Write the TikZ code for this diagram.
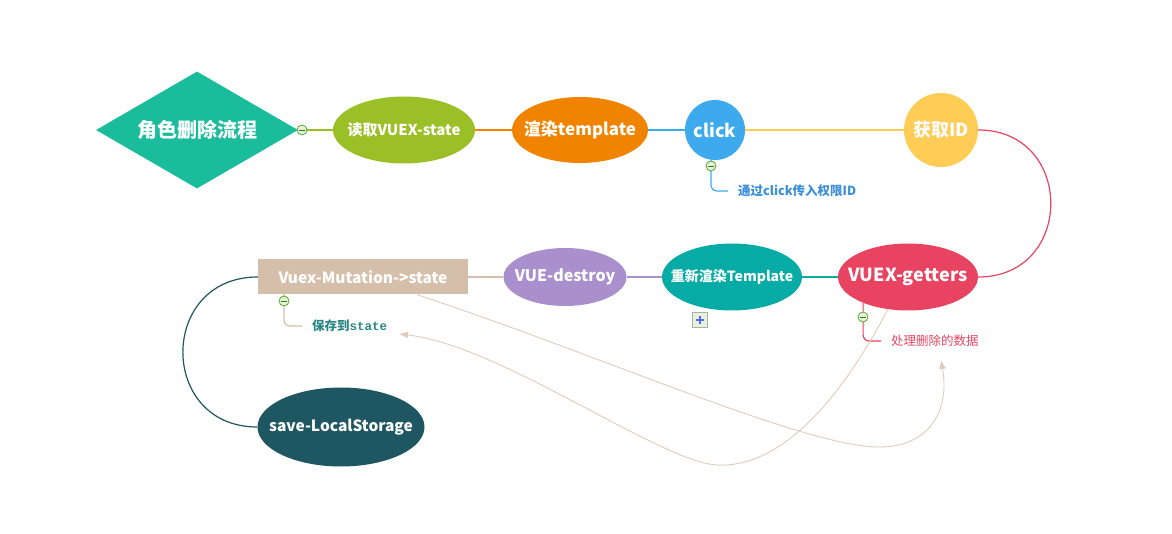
\documentclass[tikz,border=0pt]{standalone}
\usepackage{fontspec}
\setmainfont{Noto Sans CJK SC}
\setmonofont{Liberation Mono}
\usetikzlibrary{shapes.geometric,arrows.meta}

\definecolor{rootcol}{HTML}{1BBC9B}
\definecolor{readcol}{HTML}{9BBF26}
\definecolor{rendercol}{HTML}{F08300}
\definecolor{clickcol}{HTML}{3EAAEE}
\definecolor{idcol}{HTML}{FFCC55}
\definecolor{getcol}{HTML}{E84462}
\definecolor{rerendercol}{HTML}{07ABA6}
\definecolor{destroycol}{HTML}{A98FCB}
\definecolor{mutcol}{HTML}{D5BFAB}
\definecolor{savecol}{HTML}{1E5661}
\definecolor{clicknotecol}{HTML}{3A8FD8}
\definecolor{savenotecol}{HTML}{2A8784}
\definecolor{relcol}{HTML}{DDCCBC}
\definecolor{foldcol}{HTML}{5AA82C}
\definecolor{foldfill}{HTML}{E4F3D8}
\definecolor{plusedge}{HTML}{A3B8A0}
\definecolor{plusfill}{HTML}{E8EEE2}
\definecolor{pluscol}{HTML}{4F6FF0}

\begin{document}
\begin{tikzpicture}[x=1pt,y=-1pt,>={Latex[length=9pt,width=7pt]},
	topic/.style={ellipse,inner xsep=-14pt,inner ysep=0pt,text=white,font=\bfseries\fontsize{15}{18}\selectfont},
	note/.style={anchor=west,inner xsep=10pt,inner ysep=1pt,font=\fontsize{12.5}{15}\selectfont},
	fold/.style={circle,draw=foldcol,fill=foldfill,line width=0.8pt,minimum size=10pt,inner sep=0pt,
		path picture={\draw[foldcol!70!black,line width=0.9pt] ([xshift=2pt]path picture bounding box.west) -- ([xshift=-2pt]path picture bounding box.east);}},
	link/.style={line width=1.2pt},
	rel/.style={->,draw=relcol,line width=0.9pt}]
	\useasboundingbox (0,0) rectangle (1172,534);
	%\draw [help lines,step=50] (0,0) grid (1172,534);

	% main topics
	\node [diamond,aspect=1.73,fill=rootcol,text=white,minimum width=202pt,minimum height=117pt,inner sep=0pt,
		font=\bfseries\fontsize{20}{24}\selectfont] (root) at (197,130) {角色删除流程};
	\node [topic,fill=readcol,minimum width=142pt,minimum height=67pt] (read) at (404,130) {读取VUEX-state};
	\node [topic,fill=rendercol,minimum width=136pt,minimum height=66pt,font=\bfseries\fontsize{17}{20}\selectfont] (render) at (580,130) {渲染template};
	\node [circle,fill=clickcol,text=white,minimum size=60pt,inner sep=0pt,font=\bfseries\fontsize{18}{21}\selectfont] (click) at (715,130) {click};
	\node [circle,fill=idcol,text=white,minimum size=74pt,inner sep=0pt,font=\bfseries\fontsize{18}{21}\selectfont] (getid) at (941,130) {获取ID};
	\node [topic,fill=getcol,minimum width=140pt,minimum height=67pt,font=\bfseries\fontsize{18}{21}\selectfont] (getters) at (908,277) {VUEX-getters};
	\node [topic,fill=rerendercol,minimum width=140pt,minimum height=67pt,font=\bfseries\fontsize{14}{17}\selectfont] (rerender) at (732,277) {重新渲染Template};
	\node [topic,fill=destroycol,minimum width=123pt,minimum height=58pt,font=\bfseries\fontsize{16}{19}\selectfont] (destroy) at (565,277) {VUE-destroy};
	\node [rectangle,fill=mutcol,text=white,minimum width=210pt,minimum height=35pt,inner sep=0pt,
		font=\bfseries\fontsize{15.5}{18}\selectfont] (mut) at (363,277) {Vuex-Mutation->state};
	\node [topic,fill=savecol,minimum width=167pt,minimum height=79pt,font=\bfseries\fontsize{15.5}{18}\selectfont] (save) at (341,427) {save-LocalStorage};

	% notes
	\node [note,text=clicknotecol,font=\bfseries\fontsize{12.5}{15}\selectfont] (clicknote) at (728,191) {通过click传入权限ID};
	\node [note,text=getcol] (delnote) at (881,341) {处理删除的数据};
	\node [note,text=savenotecol,font=\bfseries\fontsize{12.5}{15}\selectfont] (savenote) at (302,326) {保存到{\ttfamily state}};
	\coordinate (savetip) at (399,334);
	\coordinate (deltip) at (941,360);

	% links
	\draw [link,draw=readcol] (root) -- (read);
	\draw [link,draw=rendercol] (read) -- (render);
	\draw [link,draw=clickcol] (render) -- (click);
	\draw [link,draw=idcol] (click) -- (getid);
	\draw [link,draw=getcol] (getid.east) .. controls (1075,130) and (1075,277) .. (getters.east);
	\draw [link,draw=rerendercol] (getters) -- (rerender);
	\draw [link,draw=destroycol] (rerender) -- (destroy);
	\draw [link,draw=mutcol] (destroy) -- (mut);
	\draw [link,draw=savecol] (mut.west) .. controls (158,277) and (158,427) .. (save.west);

	\draw [link,draw=clickcol,rounded corners=6pt] (711,160) |- (clicknote.west);
	\draw [link,draw=getcol,rounded corners=6pt] (getters.210) |- (delnote.west);
	\draw [link,draw=mutcol,rounded corners=6pt] (284,294) |- (savenote.west);

	% relations
	\draw [rel] (getters.238) .. controls (830,420) and (770,468) .. (717,465)
		.. controls (660,462) and (500,345) .. (savetip);
	\draw [rel] ([xshift=54pt]mut.south) .. controls (600,355) and (800,445) .. (877,447)
		.. controls (930,448) and (950,410) .. (deltip);

	% fold marks
	\node [fold] (rootfold) at (302,130) {};
	\node [fold] (clickfold) at (711,166) {};
	\node [fold] (getfold) at (863,317) {};
	\node [fold] (mutfold) at (284,301) {};
	\node [rectangle,draw=plusedge,fill=plusfill,minimum size=15pt,inner sep=0pt,line width=0.8pt,
		path picture={\draw[pluscol,line width=1.8pt] ([yshift=-3.5pt]path picture bounding box.north) -- ([yshift=3.5pt]path picture bounding box.south)
			([xshift=3.5pt]path picture bounding box.west) -- ([xshift=-3.5pt]path picture bounding box.east);}] (expand) at (700,320) {};
\end{tikzpicture}
\end{document}
